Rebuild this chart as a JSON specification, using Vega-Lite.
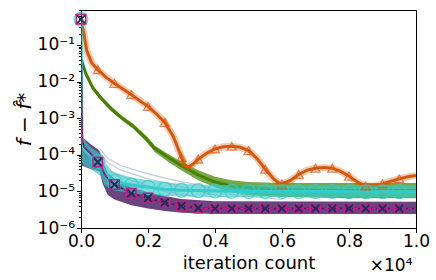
{
  "$schema": "https://vega.github.io/schema/vega-lite/v6.json",
  "width": 335,
  "height": 218,
  "autosize": {"type": "none"},
  "padding": {"left": 81, "top": 10, "right": 20, "bottom": 52},
  "background": "white",
  "title": {"text": "×10⁴", "orient": "bottom", "anchor": "end", "fontSize": 17, "fontWeight": "normal", "font": "DejaVu Sans", "color": "#000", "offset": -15, "dx": -17},
  "config": {
    "view": {"stroke": "#000", "strokeWidth": 1},
    "axis": {"labelFont": "DejaVu Sans", "titleFont": "DejaVu Sans", "labelColor": "#000", "titleColor": "#000", "tickColor": "#000", "domainColor": "#000", "grid": false, "titleFontWeight": "normal"}
  },
  "datasets": {
    "orange": [
      {"it":0,"v":0.5},{"it":50,"v":0.3},{"it":100,"v":0.17},{"it":170,"v":0.07},{"it":320,"v":0.032},
      {"it":500,"v":0.021,"mk":1},{"it":750,"v":0.013},{"it":1000,"v":0.0089,"mk":1},{"it":1250,"v":0.0063},
      {"it":1500,"v":0.0044,"mk":1},{"it":1750,"v":0.003},{"it":2000,"v":0.0021,"mk":1},{"it":2250,"v":0.0013},
      {"it":2500,"v":0.00076,"mk":1},{"it":2750,"v":0.00032},{"it":3000,"v":0.000085,"mk":1},{"it":3100,"v":0.000052},
      {"it":3200,"v":0.000046},{"it":3350,"v":0.000056},{"it":3500,"v":0.000076,"mk":1},{"it":3750,"v":0.00011},
      {"it":4000,"v":0.000145,"mk":1},{"it":4250,"v":0.000165},{"it":4500,"v":0.00017,"mk":1},{"it":4750,"v":0.00016},
      {"it":5000,"v":0.00013,"mk":1},{"it":5250,"v":0.00008},{"it":5500,"v":0.00004,"mk":1},{"it":5750,"v":0.000022},
      {"it":5900,"v":0.000017},{"it":6000,"v":0.000016,"mk":1},{"it":6250,"v":0.00002},{"it":6500,"v":0.000029,"mk":1},
      {"it":6750,"v":0.000038},{"it":7000,"v":0.000043,"mk":1},{"it":7250,"v":0.000045},{"it":7500,"v":0.000043,"mk":1},
      {"it":7750,"v":0.000035},{"it":8000,"v":0.000026,"mk":1},{"it":8250,"v":0.000018},{"it":8500,"v":0.000014,"mk":1},
      {"it":8750,"v":0.000014},{"it":9000,"v":0.000016,"mk":1},{"it":9250,"v":0.000019},{"it":9500,"v":0.000022,"mk":1},
      {"it":9750,"v":0.000025},{"it":10000,"v":0.000027}
    ],
    "green": [
      {"it":20,"v":0.04},{"it":40,"v":0.032},{"it":150,"v":0.016},{"it":350,"v":0.0068},
      {"it":600,"v":0.0035},{"it":900,"v":0.0018},{"it":1200,"v":0.00105},{"it":1560,"v":0.0006},{"it":1960,"v":0.00027},
      {"it":2200,"v":0.00015},{"it":2600,"v":0.000085},{"it":3000,"v":0.00005},{"it":3500,"v":0.000028},{"it":4000,"v":0.000018},
      {"it":4500,"v":0.000014},{"it":5000,"v":0.0000125},{"it":6000,"v":0.0000112},{"it":7000,"v":0.0000108},{"it":8000,"v":0.0000105},
      {"it":10000,"v":0.0000105}
    ],
    "greenBand": [
      {"it":40,"v":0.026,"hi":0.04},{"it":150,"v":0.0135,"hi":0.019},{"it":350,"v":0.0058,"hi":0.0078},{"it":600,"v":0.003,"hi":0.0041},
      {"it":900,"v":0.00155,"hi":0.0021},{"it":1200,"v":0.0009,"hi":0.0012},{"it":1560,"v":0.00051,"hi":0.0007},{"it":1960,"v":0.00022,"hi":0.00032},
      {"it":2200,"v":0.00012,"hi":0.00018},{"it":2600,"v":0.000065,"hi":0.000105},{"it":3000,"v":0.000037,"hi":0.000065},{"it":3500,"v":0.00002,"hi":0.000038},
      {"it":4000,"v":0.000013,"hi":0.000025},{"it":4500,"v":0.0000095,"hi":0.00002},{"it":5000,"v":0.000008,"hi":0.000018},{"it":6000,"v":0.000007,"hi":0.000017},
      {"it":8000,"v":0.0000065,"hi":0.000017},{"it":10000,"v":0.0000065,"hi":0.000017}
    ],
    "cyan": [
      {"it":0,"v":0.5,"mk":1},{"it":30,"v":0.0003},{"it":100,"v":0.00014},{"it":300,"v":0.00009},{"it":500,"v":0.000066,"mk":1},
      {"it":600,"v":0.000055},{"it":700,"v":0.000034},{"it":850,"v":0.000023},{"it":1000,"v":0.000019,"mk":1},{"it":1500,"v":0.000015,"mk":1},
      {"it":2000,"v":0.000013,"mk":1},{"it":2500,"v":0.0000115,"mk":1},{"it":3000,"v":0.0000108,"mk":1},{"it":3500,"v":0.0000105,"mk":1},
      {"it":4000,"v":0.0000102,"mk":1},{"it":4500,"v":0.0000101,"mk":1},{"it":5000,"v":0.00001,"mk":1},{"it":5500,"v":0.00001,"mk":1},
      {"it":6000,"v":0.00001,"mk":1},{"it":6500,"v":0.0000099,"mk":1},{"it":7000,"v":0.0000099,"mk":1},{"it":7500,"v":0.0000099,"mk":1},
      {"it":8000,"v":0.0000098,"mk":1},{"it":8500,"v":0.0000098,"mk":1},{"it":9000,"v":0.0000098,"mk":1},{"it":9500,"v":0.0000098,"mk":1},
      {"it":10000,"v":0.0000098}
    ],
    "cyanBand": [
      {"it":30,"v":0.00006,"hi":0.0004},{"it":100,"v":0.00005,"hi":0.00025},{"it":300,"v":0.00004,"hi":0.00016},{"it":500,"v":0.00003,"hi":0.00012},
      {"it":600,"v":0.000025,"hi":0.00009},{"it":700,"v":0.000015,"hi":0.00006},{"it":850,"v":0.000012,"hi":0.00004},{"it":1000,"v":0.0000105,"hi":0.000033},
      {"it":1500,"v":0.000009,"hi":0.000024},{"it":2000,"v":0.000008,"hi":0.00002},{"it":3000,"v":0.0000073,"hi":0.000016},{"it":4000,"v":0.000007,"hi":0.000015},
      {"it":10000,"v":0.000007,"hi":0.0000145}
    ],
    "mag": [
      {"it":0,"v":0.5,"mk":1},{"it":20,"v":0.0015},{"it":40,"v":0.00025},{"it":100,"v":0.00016},{"it":300,"v":0.000105},
      {"it":500,"v":0.000063,"mk":1},{"it":600,"v":0.00005},{"it":700,"v":0.00003},{"it":850,"v":0.00002},{"it":1000,"v":0.0000155,"mk":1},
      {"it":1500,"v":0.0000089,"mk":1},{"it":2000,"v":0.0000066,"mk":1},{"it":2500,"v":0.000005,"mk":1},{"it":3000,"v":0.000004,"mk":1},
      {"it":3500,"v":0.0000035,"mk":1},{"it":4000,"v":0.0000034,"mk":1},{"it":4500,"v":0.0000034,"mk":1},{"it":5000,"v":0.0000034,"mk":1},
      {"it":5500,"v":0.0000034,"mk":1},{"it":6000,"v":0.0000034,"mk":1},{"it":6500,"v":0.0000034,"mk":1},{"it":7000,"v":0.0000034,"mk":1},
      {"it":7500,"v":0.0000034,"mk":1},{"it":8000,"v":0.0000034,"mk":1},{"it":8500,"v":0.0000034,"mk":1},{"it":9000,"v":0.0000034,"mk":1},
      {"it":9500,"v":0.0000034,"mk":1},{"it":10000,"v":0.0000034}
    ],
    "purpleBand": [
      {"it":5,"v":0.00005,"hi":0.003},{"it":40,"v":0.00005,"hi":0.0003},{"it":300,"v":0.00004,"hi":0.00019},{"it":550,"v":0.000035,"hi":0.00013},
      {"it":650,"v":0.000016,"hi":0.000065},{"it":800,"v":0.000008,"hi":0.000032},{"it":1000,"v":0.000006,"hi":0.000022},{"it":1500,"v":0.0000042,"hi":0.000013},
      {"it":2000,"v":0.0000034,"hi":0.0000095},{"it":2500,"v":0.0000029,"hi":0.0000075},{"it":3000,"v":0.0000026,"hi":0.0000062},{"it":4000,"v":0.0000024,"hi":0.0000054},
      {"it":10000,"v":0.0000024,"hi":0.0000052}
    ],
    "faint": [
      {"run":"a","it":550,"v":0.00015},{"run":"a","it":800,"v":0.00008},{"run":"a","it":1200,"v":0.00005},{"run":"a","it":2000,"v":0.00003},{"run":"a","it":2800,"v":0.00002},{"run":"a","it":3500,"v":0.000015},{"run":"a","it":4500,"v":0.000008},{"run":"a","it":6000,"v":0.000006},
      {"run":"b","it":550,"v":0.00012},{"run":"b","it":800,"v":0.00006},{"run":"b","it":1200,"v":0.000038},{"run":"b","it":2000,"v":0.000022},{"run":"b","it":2800,"v":0.000015},{"run":"b","it":3500,"v":0.00001},{"run":"b","it":4500,"v":0.0000065},
      {"run":"c","it":600,"v":0.00009},{"run":"c","it":900,"v":0.000035},{"run":"c","it":1500,"v":0.00002},{"run":"c","it":2500,"v":0.00001},{"run":"c","it":3500,"v":0.000007}
    ]
  },
  "encoding": {
    "x": {"field": "it", "type": "quantitative", "scale": {"domain": [0, 10000], "nice": false, "zero": false},
      "axis": {"title": "iteration count", "values": [0, 2000, 4000, 6000, 8000, 10000], "labelExpr": "format(datum.value/10000, '.1f')",
        "labelFontSize": 17, "titleFontSize": 18, "tickSize": 4.5, "labelPadding": 1, "titlePadding": 5, "labelFlush": false}},
    "y": {"field": "v", "type": "quantitative", "scale": {"type": "log", "domain": [0.000001, 0.9], "nice": false},
      "axis": {"title": "f − f̂*", "titleFontStyle": "italic", "titleFontSize": 20, "titlePadding": 3, "labelFontSize": 17, "labelPadding": 2,
        "values": [0.000001,0.000002,0.000003,0.000004,0.000005,0.000006,0.000007,0.000008,0.000009,
                   0.00001,0.00002,0.00003,0.00004,0.00005,0.00006,0.00007,0.00008,0.00009,
                   0.0001,0.0002,0.0003,0.0004,0.0005,0.0006,0.0007,0.0008,0.0009,
                   0.001,0.002,0.003,0.004,0.005,0.006,0.007,0.008,0.009,
                   0.01,0.02,0.03,0.04,0.05,0.06,0.07,0.08,0.09,
                   0.1,0.2,0.3,0.4,0.5,0.6,0.7,0.8,0.9],
        "labelExpr": "datum.value == 0.1 ? '10⁻¹' : datum.value == 0.01 ? '10⁻²' : datum.value == 0.001 ? '10⁻³' : datum.value == 0.0001 ? '10⁻⁴' : datum.value == 0.00001 ? '10⁻⁵' : datum.value == 0.000001 ? '10⁻⁶' : ''",
        "tickSize": {"condition": {"test": "indexof([0.1,0.01,0.001,0.0001,0.00001,0.000001], datum.value) >= 0", "value": 4.5}, "value": 2.5},
        "labelOverlap": false, "labelFlush": false}}
  },
  "layer": [
    {"data": {"name": "greenBand"}, "mark": {"type": "area", "color": "#4a8a0a", "opacity": 0.75, "clip": true}, "encoding": {"y2": {"field": "hi"}}},
    {"data": {"name": "green"}, "mark": {"type": "line", "color": "#4a7f00", "strokeWidth": 3, "clip": true}},
    {"data": {"name": "orange"}, "mark": {"type": "line", "color": "#d9570a", "strokeWidth": 7, "opacity": 0.3, "clip": true}},
    {"data": {"name": "orange"}, "mark": {"type": "line", "color": "#d9570a", "strokeWidth": 3, "clip": true}},
    {"data": {"name": "purpleBand"}, "mark": {"type": "area", "color": "#4e2466", "opacity": 0.85, "clip": true}, "encoding": {"y2": {"field": "hi"}}},
    {"data": {"name": "cyanBand"}, "mark": {"type": "area", "color": "#33cccc", "opacity": 0.65, "clip": true}, "encoding": {"y2": {"field": "hi"}}},
    {"data": {"name": "faint"}, "mark": {"type": "line", "color": "#9aa8c0", "strokeWidth": 1.2, "opacity": 0.6, "clip": true}, "encoding": {"detail": {"field": "run"}}},
    {"data": {"name": "cyan"}, "mark": {"type": "line", "color": "#33cccc", "strokeWidth": 3, "clip": true}},
    {"data": {"name": "mag"}, "mark": {"type": "line", "color": "#1f2d52", "strokeWidth": 1.5, "clip": true}},
    {"data": {"name": "mag"}, "mark": {"type": "line", "color": "#c51b8a", "strokeWidth": 1.5, "strokeDash": [4, 2], "clip": true}},
    {"data": {"name": "orange"}, "transform": [{"filter": "datum.mk"}], "mark": {"type": "point", "shape": "triangle-up", "filled": false, "color": "#d9570a", "size": 80, "strokeWidth": 1.3}},
    {"data": {"name": "cyan"}, "transform": [{"filter": "datum.mk"}], "mark": {"type": "point", "shape": "circle", "filled": false, "color": "#33cccc", "size": 190, "strokeWidth": 1.2, "opacity": 0.8}},
    {"data": {"name": "mag"}, "transform": [{"filter": "datum.mk"}], "mark": {"type": "point", "shape": "square", "filled": false, "color": "#c51b8a", "size": 90, "strokeWidth": 1.5, "opacity": 1}},
    {"data": {"name": "mag"}, "transform": [{"filter": "datum.mk"}], "mark": {"type": "point", "shape": "M-1,-1L1,1M-1,1L1,-1", "filled": false, "color": "#1f2d52", "size": 60, "strokeWidth": 1.8, "opacity": 1}}
  ]
}
